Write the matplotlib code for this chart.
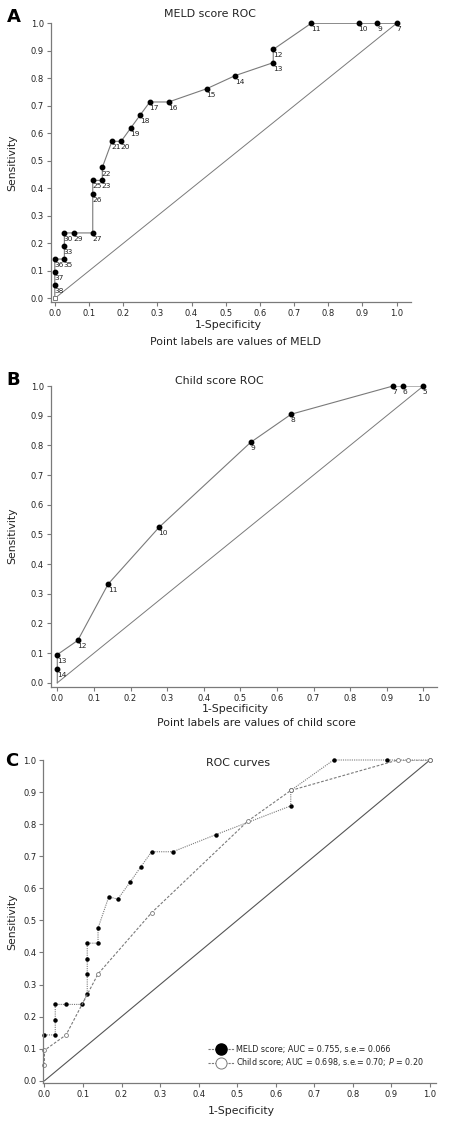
import numpy as np
import matplotlib
matplotlib.use('Agg')
import matplotlib.pyplot as plt
from matplotlib.lines import Line2D

# MELD ROC (panel A)
meld_fpr = [0, 0, 0, 0, 0.028, 0.028, 0.028, 0.056, 0.111, 0.111, 0.111, 0.139, 0.139,
            0.167, 0.194, 0.222, 0.25, 0.278, 0.333, 0.444, 0.528, 0.639, 0.639, 0.75, 0.889, 0.944, 1.0]
meld_tpr = [0, 0.048, 0.095, 0.143, 0.143, 0.19, 0.238, 0.238, 0.238, 0.381, 0.429, 0.429, 0.476,
            0.571, 0.571, 0.619, 0.667, 0.714, 0.714, 0.762, 0.81, 0.857, 0.905, 1.0, 1.0, 1.0, 1.0]
meld_lab = ['', '38', '37', '36', '35', '33', '30', '29', '27', '26', '25', '23', '22',
            '21', '20', '19', '18', '17', '16', '15', '14', '13', '12', '11', '10', '9', '7']

# Child ROC (panel B)
child_fpr = [0, 0, 0, 0.056, 0.139, 0.278, 0.528, 0.639, 0.917, 0.944, 1.0]
child_tpr = [0, 0.048, 0.095, 0.143, 0.333, 0.524, 0.81, 0.905, 1.0, 1.0, 1.0]
child_lab = ['', '14', '13', '12', '11', '10', '9', '8', '7', '6', '5']

# panel C, MELD curve as drawn there
c_meld_fpr = [0, 0.028, 0.028, 0.028, 0.056, 0.097, 0.111, 0.111, 0.111, 0.111, 0.139, 0.139,
              0.167, 0.19, 0.222, 0.25, 0.278, 0.333, 0.444, 0.639, 0.639, 0.75, 0.889, 1.0]
c_meld_tpr = [0.143, 0.143, 0.19, 0.238, 0.238, 0.238, 0.27, 0.333, 0.381, 0.429, 0.429, 0.476,
              0.574, 0.566, 0.619, 0.667, 0.714, 0.714, 0.767, 0.857, 0.905, 1.0, 1.0, 1.0]
c_child_fpr = [0, 0, 0.056, 0.139, 0.278, 0.528, 0.639, 0.917, 0.944, 1.0]
c_child_tpr = [0.048, 0.095, 0.143, 0.333, 0.524, 0.81, 0.905, 1.0, 1.0, 1.0]

ticks = np.round(np.arange(0, 1.01, 0.1), 1)
tick_lab = ['%.1f' % t for t in ticks]

W, H = 449, 1124
fig = plt.figure(figsize=(W / 100, H / 100), dpi=100)
grey = '#7a7a7a'
txt = '#222222'


def px(x, y):
    # pixel position -> figure fraction
    return x / W, 1 - y / H


def style(ax, xmin, xmax, ymin):
    ax.set_xlim(xmin, xmax)
    ax.set_ylim(ymin, 1.0)
    for s in ['top', 'right']:
        ax.spines[s].set_visible(False)
    for s in ['left', 'bottom']:
        ax.spines[s].set_color(grey)
        ax.spines[s].set_linewidth(0.9)
    ax.set_xticks(ticks)
    ax.set_xticklabels(tick_lab)
    ax.set_yticks(ticks)
    ax.set_yticklabels(tick_lab)
    ax.tick_params(length=3, width=0.8, color=grey, labelsize=6, labelcolor=txt, pad=2)


def add_axes(l, r, t, b):
    return fig.add_axes([l / W, 1 - b / H, (r - l) / W, (b - t) / H])


# ---- A
axA = add_axes(50.7, 411, 23.3, 301.7)
style(axA, -0.012, 1.042, -0.012)
axA.plot([0, 1], [0, 1], color=grey, lw=0.7)
axA.plot(meld_fpr, meld_tpr, color=grey, lw=0.8)
axA.plot(meld_fpr[1:], meld_tpr[1:], 'o', color='k', ms=3.2, clip_on=False)
axA.plot([0], [0], 's', mfc='white', mec=grey, ms=3, mew=0.7, clip_on=False)
for x, y, s in zip(meld_fpr, meld_tpr, meld_lab):
    if s:
        axA.annotate(s, (x, y), xytext=(-0.3, -2.2), textcoords='offset points',
                     ha='left', va='top', fontsize=5.4, color=txt)

# ---- B
axB = add_axes(50.7, 437.3, 386, 686.7)
style(axB, -0.018, 1.038, -0.013)
axB.plot([0, 1], [0, 1], color=grey, lw=0.7)
axB.plot(child_fpr, child_tpr, color=grey, lw=0.8)
axB.plot(child_fpr[1:], child_tpr[1:], 'o', color='k', ms=3.2, clip_on=False)
for x, y, s in zip(child_fpr, child_tpr, child_lab):
    if s:
        axB.annotate(s, (x, y), xytext=(-0.3, -2.2), textcoords='offset points',
                     ha='left', va='top', fontsize=5.4, color=txt)

# ---- C
axC = add_axes(43.3, 435.7, 760, 1082.7)
style(axC, -0.003, 1.015, -0.006)
axC.plot([0, 1], [0, 1], color='#555555', lw=0.8)
axC.plot(c_meld_fpr, c_meld_tpr, color=grey, lw=0.8, ls=(0, (1, 1)),
         marker='o', mfc='k', mec='k', ms=2.2, clip_on=False)
axC.plot(c_child_fpr, c_child_tpr, color=grey, lw=0.8, ls=(0, (2.5, 1.5)))
axC.plot(c_child_fpr, c_child_tpr, 'o', mfc='white', mec=grey, ms=2.8, mew=0.6, clip_on=False)

h1 = Line2D([], [], color=grey, lw=0.8, ls=(0, (2, 1)), marker='o', mfc='k', mec='k', ms=8)
h2 = Line2D([], [], color=grey, lw=0.8, ls=(0, (2, 1)), marker='o', mfc='white', mec=grey, ms=8, mew=0.7)
leg = axC.legend([h1, h2], ['MELD score; AUC = 0.755, s.e.= 0.066',
                            'Child score; AUC = 0.698, s.e.= 0.70; $\\it{P}$ = 0.20'],
                 loc='upper left', bbox_to_anchor=(0.42, 0.118), frameon=False,
                 fontsize=5.8, handlelength=3.2, handletextpad=0.25, labelspacing=0.35,
                 borderpad=0, borderaxespad=0)
for t in leg.get_texts():
    t.set_color(txt)

# texts
fs_lab = 7.8
fig.text(*px(209.7, 14), 'MELD score ROC', ha='center', va='center', fontsize=7.9, color=txt)
fig.text(*px(219.7, 381), 'Child score ROC', ha='center', va='center', fontsize=7.9, color=txt)
fig.text(*px(238, 763.5), 'ROC curves', ha='center', va='center', fontsize=7.9, color=txt)

fig.text(*px(228.7, 325), '1-Specificity', ha='center', va='center', fontsize=fs_lab, color=txt)
fig.text(*px(235, 709.3), '1-Specificity', ha='center', va='center', fontsize=fs_lab, color=txt)
fig.text(*px(241, 1110.7), '1-Specificity', ha='center', va='center', fontsize=fs_lab, color=txt)
fig.text(*px(235, 341.7), 'Point labels are values of MELD', ha='center', va='center', fontsize=fs_lab, color=txt)
fig.text(*px(256, 723), 'Point labels are values of child score', ha='center', va='center', fontsize=fs_lab, color=txt)

for yc in [162.5, 536, 921.5]:
    fig.text(*px(12.5, yc), 'Sensitivity', ha='center', va='center', rotation=90,
             fontsize=fs_lab, color=txt)

fig.text(*px(13.7, 17), 'A', ha='center', va='center', fontsize=13, fontweight='bold')
fig.text(*px(13.2, 379.5), 'B', ha='center', va='center', fontsize=13, fontweight='bold')
fig.text(*px(11.3, 761), 'C', ha='center', va='center', fontsize=13, fontweight='bold')

fig.savefig('out.png', dpi=100)
